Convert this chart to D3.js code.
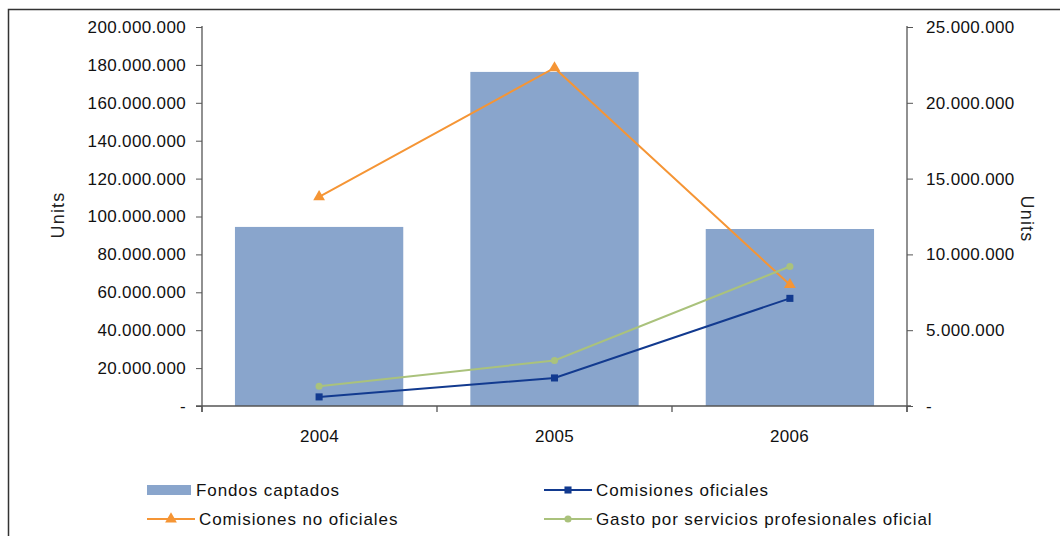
<!DOCTYPE html>
<html>
<head>
<meta charset="utf-8">
<script src="https://cdn.jsdelivr.net/npm/d3@7"></script>
<style>
  html, body { margin: 0; padding: 0; background: #fff; }
  svg { display: block; font-family: "Liberation Sans", Arial, sans-serif; }
</style>
</head>
<body>
<svg id="chart" width="1060" height="536"></svg>
<script>
// Years shown on the category axis
const years = ["2004", "2005", "2006"];
// Funds raised (left axis)
const fondosCaptados = [94500000, 176300000, 93400000];
// Commissions and professional services spend (right axis)
const comisionesOficiales = [600000, 1850000, 7100000];
const comisionesNoOficiales = [13800000, 22300000, 8000000];
const gastoServicios = [1300000, 3000000, 9200000];
// Axis tick values
const leftTicks = [0, 20000000, 40000000, 60000000, 80000000, 100000000, 120000000, 140000000, 160000000, 180000000, 200000000];
const rightTicks = [0, 5000000, 10000000, 15000000, 20000000, 25000000];
const seriesNames = ["Fondos captados", "Comisiones oficiales", "Comisiones no oficiales", "Gasto por servicios profesionales oficial"];

const colors = {
  bar: "#89A5CC",
  navy: "#123A8F",
  orange: "#F59535",
  green: "#AAC27C"
};

const svg = d3.select("#chart");
const plot = { left: 202, right: 907, top: 27, bottom: 406 };

// Outer frame
svg.append("path")
  .attr("d", `M8.5,540 V9.5 H1070`)
  .attr("fill", "none").attr("stroke", "#333").attr("stroke-width", 1.5);

const x = d3.scaleBand().domain(years).range([plot.left, plot.right])
  .paddingInner(0.285).paddingOuter(0.14);
const xCat = d3.scaleBand().domain(years).range([plot.left, plot.right]);
const yL = d3.scaleLinear().domain([0, 200000000]).range([plot.bottom, plot.top]);
const yR = d3.scaleLinear().domain([0, 25000000]).range([plot.bottom, plot.top]);

const fmt = v => v === 0 ? "-" : d3.format(",")(v).replace(/,/g, ".");

// Bars
svg.append("g").selectAll("rect").data(fondosCaptados).join("rect")
  .attr("x", (d, i) => x(years[i]))
  .attr("y", d => yL(d))
  .attr("width", x.bandwidth())
  .attr("height", d => yL(0) - yL(d))
  .attr("fill", colors.bar);

// Left axis
const gL = svg.append("g").attr("transform", `translate(${plot.left},0)`)
  .call(d3.axisLeft(yL).tickValues(leftTicks).tickFormat(fmt).tickSize(6).tickPadding(10));
// Right axis
const gR = svg.append("g").attr("transform", `translate(${plot.right},0)`)
  .call(d3.axisRight(yR).tickValues(rightTicks).tickFormat(fmt).tickSize(6).tickPadding(13));
[gL, gR].forEach(g => {
  g.select(".domain").attr("stroke", "#555").attr("stroke-width", 1.3).attr("d", `M0,${plot.top - 1}V${plot.bottom + 6}`);
  g.selectAll(".tick line").attr("stroke", "#555");
  g.selectAll(".tick text").attr("fill", "#111").attr("font-size", 17).attr("letter-spacing", "0.35px")
    .attr("font-family", "'Liberation Sans', Arial, sans-serif");
});

// Category axis
const gB = svg.append("g").attr("transform", `translate(0,${plot.bottom})`)
  .call(d3.axisBottom(xCat).tickSize(0).tickPadding(24));
gB.select(".domain").attr("stroke", "#555").attr("stroke-width", 1.3)
  .attr("d", `M${plot.left - 6},0H${plot.right + 4}`);
gB.selectAll(".tick text").attr("fill", "#111").attr("font-size", 17).attr("letter-spacing", "0.35px")
  .attr("font-family", "'Liberation Sans', Arial, sans-serif");
const boundaries = years.map(y => xCat(y)).concat([plot.right]);
gB.append("g").selectAll("line").data(boundaries).join("line")
  .attr("x1", d => d).attr("x2", d => d).attr("y1", 0).attr("y2", 6)
  .attr("stroke", "#555").attr("stroke-width", 1.3);

// Axis titles
svg.append("text").attr("transform", `translate(64,215) rotate(-90)`)
  .attr("text-anchor", "middle").attr("font-size", 18).attr("letter-spacing", "1.2px")
  .attr("fill", "#222").text("Units");
svg.append("text").attr("transform", `translate(1021,219) rotate(90)`)
  .attr("text-anchor", "middle").attr("font-size", 18).attr("letter-spacing", "1.2px")
  .attr("fill", "#222").text("Units");

// Lines
const cx = i => x(years[i]) + x.bandwidth() / 2;
const line = d3.line().x((d, i) => cx(i)).y(d => yR(d));
const lineSeries = [
  { vals: comisionesNoOficiales, color: colors.orange, marker: "triangle" },
  { vals: gastoServicios, color: colors.green, marker: "circle" },
  { vals: comisionesOficiales, color: colors.navy, marker: "square" }
];
const symbols = { triangle: d3.symbolTriangle, circle: d3.symbolCircle, square: d3.symbolSquare };
const sizes = { triangle: 60, circle: 40, square: 50 };
lineSeries.forEach(s => {
  svg.append("path").datum(s.vals).attr("d", line)
    .attr("fill", "none").attr("stroke", s.color).attr("stroke-width", 2);
  svg.append("g").selectAll("path").data(s.vals).join("path")
    .attr("transform", (d, i) => `translate(${cx(i)},${yR(d)})`)
    .attr("d", d3.symbol().type(symbols[s.marker]).size(sizes[s.marker]))
    .attr("fill", s.color);
});

// Legend
const legend = svg.append("g").attr("font-size", 17).attr("fill", "#111").attr("letter-spacing", "0.9px");
const legendItems = [
  { name: seriesNames[0], kind: "bar", color: colors.bar, x: 147, y: 490 },
  { name: seriesNames[1], kind: "square", color: colors.navy, x: 544, y: 490 },
  { name: seriesNames[2], kind: "triangle", color: colors.orange, x: 147, y: 519 },
  { name: seriesNames[3], kind: "circle", color: colors.green, x: 544, y: 519 }
];
legendItems.forEach(it => {
  const g = legend.append("g");
  if (it.kind === "bar") {
    g.append("rect").attr("x", it.x).attr("y", it.y - 5).attr("width", 44).attr("height", 10).attr("fill", it.color);
  } else {
    g.append("line").attr("x1", it.x).attr("x2", it.x + 48).attr("y1", it.y).attr("y2", it.y)
      .attr("stroke", it.color).attr("stroke-width", 2);
    g.append("path").attr("transform", `translate(${it.x + 24},${it.y})`)
      .attr("d", d3.symbol().type(symbols[it.kind]).size(sizes[it.kind]))
      .attr("fill", it.color);
  }
  g.append("text").attr("x", it.x + (it.kind === "bar" ? 49 : 52)).attr("y", it.y).attr("dy", "0.35em").text(it.name);
});
</script>
</body>
</html>
